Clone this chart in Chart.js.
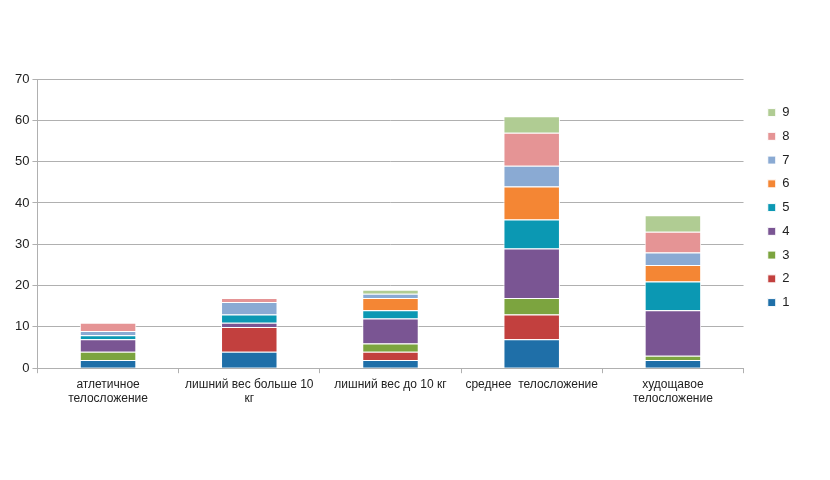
<!DOCTYPE html>
<html>
<head>
<meta charset="utf-8">
<script src="https://cdn.jsdelivr.net/npm/chart.js@4.4.0/dist/chart.umd.min.js"></script>
<style>
  html, body { margin: 0; padding: 0; background: #ffffff; }
  #wrap { width: 830px; height: 480px; }
</style>
</head>
<body>
<div id="wrap"><canvas id="c" width="830" height="480"></canvas></div>
<script>
const categories = [
  ["атлетичное", "телосложение"],
  ["лишний вес больше 10", "кг"],
  ["лишний вес до 10 кг"],
  ["среднее  телосложение"],
  ["худощавое", "телосложение"]
];
const seriesNames = ["1", "2", "3", "4", "5", "6", "7", "8", "9"];
const s1 = [2, 4, 2, 7, 2];
const s2 = [0, 6, 2, 6, 0];
const s3 = [2, 0, 2, 4, 1];
const s4 = [3, 1, 6, 12, 11];
const s5 = [1, 2, 2, 7, 7];
const s6 = [0, 0, 3, 8, 4];
const s7 = [1, 3, 1, 5, 3];
const s8 = [2, 1, 0, 8, 5];
const s9 = [0, 0, 1, 4, 4];
const yTicks = [0, 10, 20, 30, 40, 50, 60, 70];

const colors = ["#1f6fa8", "#c2403e", "#7ca43f", "#7a5593", "#0b98b3", "#f48634", "#8aaad3", "#e59495", "#b0cc93"];
const seriesValues = [s1, s2, s3, s4, s5, s6, s7, s8, s9];

const FONT = "'Liberation Sans', Arial, sans-serif";

const legendShift = {
  id: 'legendShift',
  afterLayout(chart) {
    const lg = chart.legend;
    if (!lg) return;
    const dx = 757 - lg.left;
    const dy = -16;
    lg.left += dx; lg.right += dx;
    lg.top += dy; lg.bottom += dy;
  }
};

new Chart(document.getElementById('c'), {
  type: 'bar',
  data: {
    labels: categories,
    datasets: seriesValues.map((vals, i) => ({
      label: seriesNames[i],
      data: vals,
      backgroundColor: colors[i],
      borderColor: '#ffffff',
      borderWidth: 1,
      barPercentage: 0.8,
      categoryPercentage: 0.5
    }))
  },
  options: {
    responsive: false,
    animation: false,
    devicePixelRatio: 1,
    layout: { padding: { left: 12, right: 44, top: 79, bottom: 70 } },
    plugins: {
      legend: {
        position: 'right',
        fullSize: false,
        reverse: true,
        labels: {
          boxWidth: 8,
          boxHeight: 8,
          padding: 10.75,
          color: '#222',
          font: { family: FONT, size: 13 }
        }
      },
      tooltip: { enabled: false }
    },
    scales: {
      x: {
        stacked: true,
        grid: {
          offset: true,
          drawOnChartArea: false,
          drawTicks: true,
          tickLength: 5,
          color: '#b0b0b0'
        },
        border: { color: '#b0b0b0', width: 1 },
        ticks: {
          color: '#222',
          padding: 4,
          maxRotation: 0,
          autoSkip: false,
          font: { family: FONT, size: 12 }
        }
      },
      y: {
        stacked: true,
        min: 0,
        max: 70,
        afterBuildTicks(scale) { scale.ticks = yTicks.map(v => ({ value: v })); },
        grid: {
          color: '#b0b0b0',
          tickLength: 5,
          drawTicks: true
        },
        border: { color: '#b0b0b0', width: 1 },
        ticks: {
          color: '#222',
          padding: 3,
          font: { family: FONT, size: 13 }
        }
      }
    }
  },
  plugins: [legendShift]
});
</script>
</body>
</html>
